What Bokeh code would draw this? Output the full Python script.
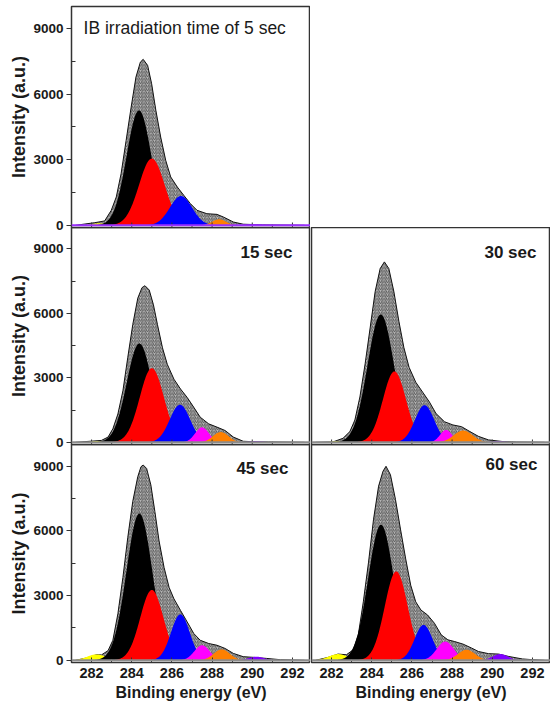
import numpy as np
from bokeh.plotting import figure
from bokeh.layouts import column, row
from bokeh.models import Range1d, Label, Span, FixedTicker
from bokeh.embed import file_html
from bokeh.resources import INLINE

FONT = "Liberation Sans"

# ---------------- data ----------------
panel_labels = ["IB irradiation time of 5 sec", "15 sec", "30 sec", "45 sec", "60 sec"]
component_names = ["C1", "C=C sp2", "C-C sp3", "C-O", "C=O", "O-C=O", "pi-pi*"]
component_colors = ["#ffff00", "#000000", "#ff0000", "#0000ff", "#ff00ff", "#ff8000", "#8000ff"]

x_ticks = [282, 284, 286, 288, 290, 292]
x_minor = [281, 283, 285, 287, 289, 291]
y_ticks = [0, 3000, 6000, 9000]
y_minor = [1500, 4500, 7500]

# measured envelopes (binding energy, intensity)
E5 = [281.2, 282.16, 282.65, 282.98, 283.23, 283.47, 283.72, 283.97, 284.21, 284.43, 284.57, 284.79, 284.99, 285.20,
      285.44, 285.69, 285.94, 286.27, 286.59, 286.92, 287.25, 287.74, 288.24, 288.56, 289.06, 289.55, 290.5, 292.6]
I5 = [0, 120, 200, 685, 1295, 2360, 3880, 5400, 6780, 7460, 7585, 7310, 6470, 5255,
      4035, 2970, 2210, 1750, 1370, 990, 685, 530, 500, 380, 150, 50, 20, 0]

E15 = [281.2, 282.49, 282.82, 283.06, 283.31, 283.56, 283.80, 284.05, 284.30, 284.51, 284.66, 284.87, 285.08, 285.28,
       285.53, 285.77, 286.10, 286.43, 286.76, 287.09, 287.41, 287.83, 288.24, 288.65, 289.06, 289.55, 290.04, 290.8, 292.6]
I15 = [0, 90, 245, 630, 1320, 2400, 3940, 5480, 6710, 7200, 7290, 7090, 6400, 5480,
       4400, 3630, 2940, 2480, 2090, 1630, 1170, 860, 710, 550, 245, 50, 30, 20, 0]

E30 = [281.2, 282.07, 282.57, 282.91, 283.16, 283.41, 283.67, 283.92, 284.17, 284.42, 284.63, 284.85, 285.10, 285.35,
       285.60, 285.86, 286.19, 286.53, 286.87, 287.20, 287.62, 288.04, 288.47, 288.89, 289.31, 289.81, 290.49, 291.2, 292.6]
I30 = [0, 20, 190, 500, 1040, 2110, 3650, 5330, 7020, 8090, 8400, 8090, 7020, 5640,
       4410, 3490, 2800, 2340, 1880, 1340, 960, 810, 730, 500, 280, 115, 40, 15, 0]

E45 = [281.2, 281.8, 282.24, 282.49, 282.82, 283.06, 283.31, 283.56, 283.80, 284.05, 284.30, 284.46, 284.57, 284.74,
       284.95, 285.15, 285.36, 285.61, 285.86, 286.10, 286.43, 286.76, 287.09, 287.41, 287.83, 288.24, 288.65, 289.06,
       289.55, 290.04, 290.7, 291.4, 292.6]
I45 = [0, 120, 260, 250, 450, 930, 2160, 3840, 5680, 7360, 8510, 8970, 9050, 8890,
       8130, 6900, 5530, 4300, 3380, 2850, 2310, 1780, 1240, 930, 780, 700, 550, 320,
       170, 140, 90, 30, 0]

E60 = [281.2, 281.8, 282.32, 282.74, 283.08, 283.33, 283.58, 283.84, 284.09, 284.34, 284.56, 284.71, 284.93, 285.18,
       285.43, 285.69, 285.94, 286.19, 286.45, 286.78, 287.12, 287.46, 287.79, 288.13, 288.55, 288.97, 289.31, 289.81,
       290.32, 290.82, 291.5, 292.0, 292.6]
I60 = [0, 130, 290, 260, 490, 1180, 2710, 4550, 6540, 8070, 8760, 8990, 8600, 7460,
       6080, 4700, 3480, 2710, 2330, 2100, 1720, 1180, 950, 870, 750, 570, 410, 310,
       290, 180, 65, 30, 0]

# fitted components: centre (eV), height, FWHM (eV) in order of component_names
centers5 = [282.35, 284.36, 285.00, 286.45, 287.50, 288.35, 290.10]
heights5 = [90, 5250, 3050, 1340, 0, 275, 45]
fwhm5 = [0.8, 1.45, 1.50, 1.30, 0.8, 0.8, 0.9]

centers15 = [282.30, 284.38, 285.00, 286.40, 287.50, 288.43, 290.20]
heights15 = [60, 4600, 3450, 1750, 700, 480, 50]
fwhm15 = [0.7, 1.48, 1.42, 1.20, 0.8, 0.9, 0.9]

centers30 = [282.35, 284.45, 285.13, 286.63, 287.70, 288.55, 290.30]
heights30 = [60, 5950, 3300, 1730, 580, 550, 50]
fwhm30 = [0.8, 1.55, 1.35, 1.13, 0.7, 1.1, 0.9]

centers45 = [282.24, 284.38, 285.00, 286.42, 287.50, 288.48, 290.20]
heights45 = [275, 6800, 3260, 2130, 700, 505, 170]
fwhm45 = [1.1, 1.52, 1.36, 1.10, 0.9, 0.95, 0.9]

centers60 = [282.32, 284.46, 285.22, 286.58, 287.66, 288.72, 290.40]
heights60 = [290, 6280, 4120, 1640, 870, 490, 290]
fwhm60 = [1.1, 1.50, 1.35, 1.05, 1.0, 1.0, 0.9]

# ---------------- drawing ----------------
X_RANGE = (281.0, 292.9)
Y_RANGE = (-100, 10000)
grid = np.linspace(X_RANGE[0], X_RANGE[1], 600)
TXT = "#1a1a1a"
EDGE = "#333333"


def gauss(c, h, w):
    return h * np.exp(-4.0 * np.log(2.0) * (grid - c) ** 2 / w ** 2)


def make_panel(E, I, centers, heights, fwhm, label, label_x, label_y, label_align,
               left, bottom, first, frame_h, baseline_color, label_bold=True, label_size="17px"):
    kw = dict(output_backend="svg", toolbar_location=None,
              x_range=Range1d(*X_RANGE), y_range=Range1d(*Y_RANGE),
              frame_width=239, frame_height=frame_h,
              min_border_left=71 if left else 1, min_border_right=0,
              min_border_top=6 if first else 0,
              min_border_bottom=0 if bottom else 9)
    if not bottom:
        kw["margin"] = (0, 0, -9, 0)
    p = figure(**kw)
    if first:
        p.border_fill_color = "white"
        p.background_fill_color = "white"
    else:
        p.border_fill_alpha = 0
        p.background_fill_alpha = 0
    p.outline_line_color = EDGE
    p.outline_line_width = 1.5
    p.xgrid.visible = False
    p.ygrid.visible = False

    # envelope (hatched)
    p.varea(x=E, y1=0, y2=I, fill_color="#b8b8b8", hatch_pattern="/",
            hatch_color="#2a2a2a", hatch_scale=3.5, hatch_weight=0.7)
    p.line(x=E, y=I, line_color="#111111", line_width=1)

    for c, h, w, col in zip(centers, heights, fwhm, component_colors):
        if h <= 0:
            continue
        p.varea(x=grid, y1=0, y2=gauss(c, h, w), fill_color=col)

    p.add_layout(Span(location=0, dimension="width", line_color=baseline_color, line_width=2))

    # x axis
    xa = p.xaxis[0]
    if bottom:
        xa.ticker = FixedTicker(ticks=x_ticks, minor_ticks=x_minor)
        xa.axis_line_color = None
        xa.major_tick_in = 5
        xa.major_tick_out = 0
        xa.minor_tick_in = 3
        xa.minor_tick_out = 0
        xa.major_tick_line_color = EDGE
        xa.minor_tick_line_color = EDGE
        xa.major_label_text_font = FONT
        xa.major_label_text_font_size = "14.5px"
        xa.major_label_text_font_style = "bold"
        xa.major_label_text_color = TXT
        xa.major_label_standoff = 5
        xa.axis_label = "Binding energy (eV)"
        xa.axis_label_text_font = FONT
        xa.axis_label_text_font_size = "16px"
        xa.axis_label_text_font_style = "bold"
        xa.axis_label_text_color = TXT
        xa.axis_label_standoff = 3
    else:
        xa.visible = False
        # inward tick marks along the bottom edge (half of each dash is clipped by the frame)
        p.scatter(x=x_ticks, y=[Y_RANGE[0]] * len(x_ticks), marker="dash", angle=np.pi / 2,
                  size=10, line_color=EDGE, line_width=1)
        p.scatter(x=x_minor, y=[Y_RANGE[0]] * len(x_minor), marker="dash", angle=np.pi / 2,
                  size=6, line_color=EDGE, line_width=1)

    # y axis
    ya = p.yaxis[0]
    if left:
        ya.ticker = FixedTicker(ticks=y_ticks, minor_ticks=y_minor)
        ya.axis_line_color = None
        ya.major_tick_out = 5
        ya.major_tick_in = 0
        ya.minor_tick_in = 4
        ya.minor_tick_out = 0
        ya.major_tick_line_color = EDGE
        ya.minor_tick_line_color = EDGE
        ya.major_label_text_font = FONT
        ya.major_label_text_font_size = "13.5px"
        ya.major_label_text_font_style = "bold"
        ya.major_label_text_color = TXT
        ya.major_label_standoff = 3
        ya.axis_label = "Intensity (a.u.)"
        ya.axis_label_text_font = FONT
        ya.axis_label_text_font_size = "18px"
        ya.axis_label_text_font_style = "bold"
        ya.axis_label_text_color = TXT
        ya.axis_label_standoff = 1
    else:
        ya.visible = False

    p.add_layout(Label(x=label_x, y=label_y, text=label, text_font=FONT,
                       text_font_size=label_size,
                       text_font_style="bold" if label_bold else "normal",
                       text_color=TXT, text_align=label_align,
                       text_baseline="middle"))
    return p


p5 = make_panel(E5, I5, centers5, heights5, fwhm5, panel_labels[0], 281.6, 9040, "left",
                left=True, bottom=False, first=True, frame_h=221, baseline_color="#9b30ff",
                label_bold=False, label_size="17.5px")
p15 = make_panel(E15, I15, centers15, heights15, fwhm15, panel_labels[1], 292.0, 8840, "right",
                 left=True, bottom=False, first=False, frame_h=217, baseline_color="#8c8c8c")
p30 = make_panel(E30, I30, centers30, heights30, fwhm30, panel_labels[2], 292.2, 8840, "right",
                 left=False, bottom=False, first=False, frame_h=217, baseline_color="#8c8c8c")
p45 = make_panel(E45, I45, centers45, heights45, fwhm45, panel_labels[3], 291.8, 8890, "right",
                 left=True, bottom=True, first=False, frame_h=218, baseline_color="#8c8c8c")
p60 = make_panel(E60, I60, centers60, heights60, fwhm60, panel_labels[4], 292.25, 9070, "right",
                 left=False, bottom=True, first=False, frame_h=218, baseline_color="#8c8c8c")

layout = column(row(p5), row(p15, p30), row(p45, p60))

open("out.html", "w").write(file_html(layout, INLINE))
